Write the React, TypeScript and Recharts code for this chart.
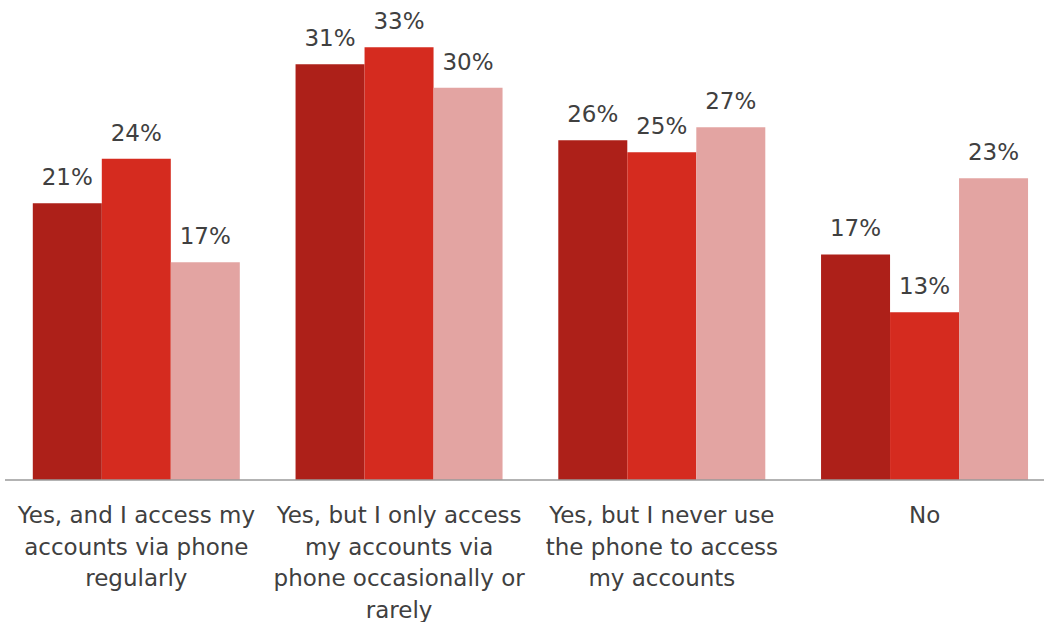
import React from 'react';
import { BarChart, Bar, XAxis, YAxis, LabelList } from 'recharts';

// categories (line breaks as drawn under the axis)
const categories = [
  'Yes, and I access my\naccounts via phone\nregularly',
  'Yes, but I only access\nmy accounts via\nphone occasionally or\nrarely',
  'Yes, but I never use\nthe phone to access\nmy accounts',
  'No',
];

// bar heights
const seriesA = [21.1, 31.7, 25.9, 17.2];
const seriesB = [24.5, 33.0, 25.0, 12.8];
const seriesC = [16.6, 29.9, 26.9, 23.0];

// printed labels above the bars
const labelsA = ['21%', '31%', '26%', '17%'];
const labelsB = ['24%', '33%', '25%', '13%'];
const labelsC = ['17%', '30%', '27%', '23%'];

const colors = ['#ad2019', '#d52b1f', '#e3a4a2'];
const keys = ['a', 'b', 'c'];

const data = categories.map((name, i) => ({
  name,
  a: seriesA[i],
  b: seriesB[i],
  c: seriesC[i],
  aLabel: labelsA[i],
  bLabel: labelsB[i],
  cLabel: labelsC[i],
}));

const FONT = '"DejaVu Sans", sans-serif';
const TEXT = '#404040';

const CategoryTick = (props: any) => {
  const { x, y, payload } = props;
  const lines = String(payload.value).split('\n');
  return (
    <text x={x} y={y} textAnchor="middle" fill={TEXT} fontSize={23} fontFamily={FONT}>
      {lines.map((line, i) => (
        <tspan key={i} x={x} dy={i === 0 ? 43 : 31.5}>
          {line}
        </tspan>
      ))}
    </text>
  );
};

export default function App() {
  return (
    <div
      style={{
        position: 'fixed',
        left: 0,
        top: 0,
        width: 1044,
        height: 622,
        overflow: 'hidden',
        background: '#fff',
      }}
    >
      <BarChart
        width={1056}
        height={622}
        data={data}
        margin={{ top: 0, right: 0, bottom: 0, left: 5 }}
        barCategoryGap={27.8}
        barGap={0}
      >
        <XAxis
          dataKey="name"
          height={142}
          tickLine={false}
          tickSize={0}
          tickMargin={0}
          interval={0}
          axisLine={{ stroke: '#9a9a9a', strokeWidth: 1.5 }}
          tick={<CategoryTick />}
        />
        <YAxis hide domain={[0, 36.6]} />
        {keys.map((k, i) => (
          <Bar key={k} dataKey={k} fill={colors[i]} isAnimationActive={false}>
            <LabelList
              dataKey={k + 'Label'}
              position="top"
              offset={18}
              fill={TEXT}
              fontSize={23}
              fontFamily={FONT}
            />
          </Bar>
        ))}
      </BarChart>
    </div>
  );
}
